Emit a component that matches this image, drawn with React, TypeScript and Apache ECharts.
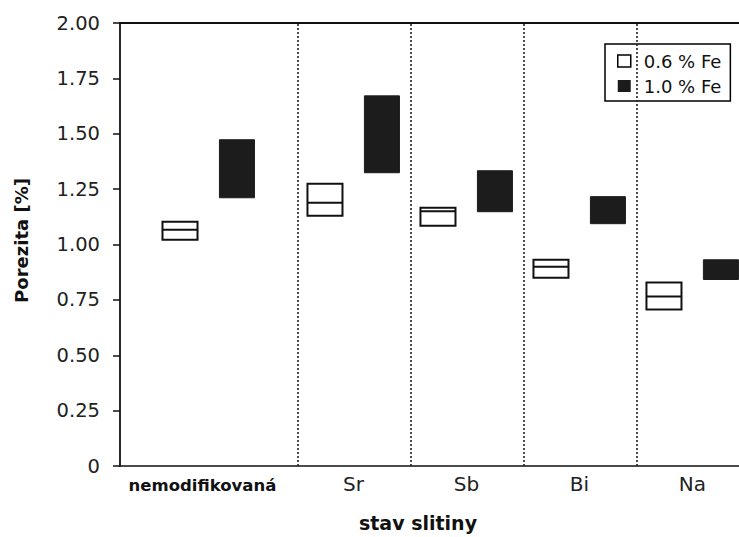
import React, { useEffect, useRef } from "react";
import * as echarts from "echarts";

const categories = ["nemodifikovaná", "Sr", "Sb", "Bi", "Na"];
const fe06Low = [1.022, 1.13, 1.085, 0.85, 0.706];
const fe06Median = [1.067, 1.189, 1.15, 0.9, 0.765];
const fe06High = [1.103, 1.274, 1.166, 0.931, 0.828];
const fe10Low = [1.211, 1.324, 1.148, 1.094, 0.842];
const fe10High = [1.473, 1.671, 1.333, 1.216, 0.931];
const yTicks = [0, 0.25, 0.5, 0.75, 1.0, 1.25, 1.5, 1.75, 2.0];
const seriesNames = ["0.6 % Fe", "1.0 % Fe"];

const FONT = "DejaVu Sans";
const FIRST_SPAN = 1.566; // first category is wider than the others
const X_MAX = 5.478;
const OFFSET = 0.252;
const HALF_W = 0.155;

const centerOf = (i: number) => (i === 0 ? FIRST_SPAN / 2 : FIRST_SPAN + (i - 1) + 0.5);
const dividers = categories.slice(1).map((_, k) => FIRST_SPAN + k);

export default function App() {
  const ref = useRef<HTMLDivElement>(null);
  useEffect(() => {
    if (!ref.current) return;
    const chart = echarts.init(ref.current, null, { renderer: "svg" });

    const makeRender = (fill: string, stroke: string, lw: number) => (params: any, api: any) => {
      const cx = api.value(0);
      const lo = api.value(1);
      const med = api.value(2);
      const hi = api.value(3);
      const p1 = api.coord([cx - HALF_W, hi]);
      const p2 = api.coord([cx + HALF_W, lo]);
      const children: any[] = [
        {
          type: "rect",
          shape: { x: p1[0], y: p1[1], width: p2[0] - p1[0], height: p2[1] - p1[1] },
          style: { fill, stroke, lineWidth: lw },
        },
      ];
      if (!isNaN(med)) {
        const my = api.coord([cx, med])[1];
        children.push({
          type: "line",
          shape: { x1: p1[0], y1: my, x2: p2[0], y2: my },
          style: { stroke, lineWidth: lw },
        });
      }
      return { type: "group", children };
    };

    const d06 = categories.map((_, i) => [centerOf(i) - OFFSET, fe06Low[i], fe06Median[i], fe06High[i]]);
    const d10 = categories.map((_, i) => [centerOf(i) + OFFSET, fe10Low[i], NaN, fe10High[i]]);

    chart.setOption({
      animation: false,
      backgroundColor: "#fff",
      textStyle: { fontFamily: FONT },
      grid: { left: 120, right: 0, top: 23, bottom: 70.5 },
      legend: {
        orient: "vertical",
        left: 605,
        top: 44,
        itemWidth: 13,
        itemHeight: 12,
        itemGap: 7,
        padding: [8, 9, 6, 12],
        borderColor: "#000",
        borderWidth: 1.5,
        backgroundColor: "#fff",
        textStyle: { fontFamily: FONT, fontSize: 18, color: "#111", padding: [0, 0, 0, 8] },
        data: [
          { name: seriesNames[0], icon: "rect", itemStyle: { color: "#fff", borderColor: "#000", borderWidth: 1.5 } },
          { name: seriesNames[1], icon: "rect", itemStyle: { color: "#1c1c1c", borderColor: "#1c1c1c", borderWidth: 0 } },
        ],
      },
      xAxis: [
        {
          type: "value",
          min: 0,
          max: X_MAX,
          name: "stav slitiny",
          nameLocation: "middle",
          nameGap: 47,
          nameTextStyle: { fontFamily: FONT, fontSize: 19, fontWeight: "bold", color: "#111", padding: [0, 23, 0, 0] },
          axisLine: { show: true, onZero: false, lineStyle: { color: "#111", width: 1.5 } },
          axisTick: { show: false },
          splitLine: { show: false },
          axisLabel: {
            customValues: categories.map((_, i) => centerOf(i)),
            margin: 8,
            fontFamily: FONT,
            fontSize: 20,
            color: "#222",
            formatter: (v: number) => {
              const idx = categories.findIndex((_, i) => Math.abs(centerOf(i) - v) < 1e-6);
              if (idx < 0) return "";
              return idx === 0 ? "{b|" + categories[idx] + "}" : categories[idx];
            },
            rich: {
              b: { fontFamily: FONT, fontSize: 16.5, fontWeight: "bold", color: "#111", padding: [3, 12, 0, 0] },
            },
          },
        },
        {
          type: "value",
          position: "top",
          min: 0,
          max: X_MAX,
          axisLine: { show: true, onZero: false, lineStyle: { color: "#111", width: 2 } },
          axisTick: { show: false },
          axisLabel: { show: false },
          splitLine: { show: false },
        },
      ],
      yAxis: {
        type: "value",
        min: 0,
        max: 2,
        interval: 0.25,
        name: "Porezita [%]",
        nameLocation: "middle",
        nameGap: 90,
        nameTextStyle: { fontFamily: FONT, fontSize: 18, fontWeight: "bold", color: "#111", padding: [0, 0, 0, 8] },
        axisLine: { show: true, lineStyle: { color: "#111", width: 1.8 } },
        axisTick: { show: true, inside: false, length: 7, lineStyle: { color: "#111", width: 1.5 } },
        splitLine: { show: false },
        axisLabel: {
          margin: 20,
          fontFamily: FONT,
          fontSize: 19.5,
          color: "#222",
          formatter: (v: number) => {
            const t = yTicks.find((x) => Math.abs(x - v) < 1e-9);
            if (t === undefined) return "";
            return t === 0 ? "0" : t.toFixed(2);
          },
        },
      },
      series: [
        {
          name: seriesNames[0],
          type: "custom",
          renderItem: makeRender("#fff", "#111", 2),
          encode: { x: 0, y: [1, 2, 3] },
          itemStyle: { color: "#fff", borderColor: "#000" },
          data: d06,
          markLine: {
            silent: true,
            symbol: ["none", "none"],
            label: { show: false },
            lineStyle: { color: "#222", width: 1.6, type: [2, 2] },
            data: dividers.map((x) => ({ xAxis: x })),
          },
          z: 3,
        },
        {
          name: seriesNames[1],
          type: "custom",
          renderItem: makeRender("#1c1c1c", "#1c1c1c", 1),
          encode: { x: 0, y: [1, 3] },
          itemStyle: { color: "#1c1c1c" },
          data: d10,
          z: 3,
        },
      ],
    });
    return () => chart.dispose();
  }, []);
  return (
    <div
      ref={ref}
      style={{ position: "fixed", left: 0, top: 0, width: 739, height: 537, background: "#fff" }}
    />
  );
}
